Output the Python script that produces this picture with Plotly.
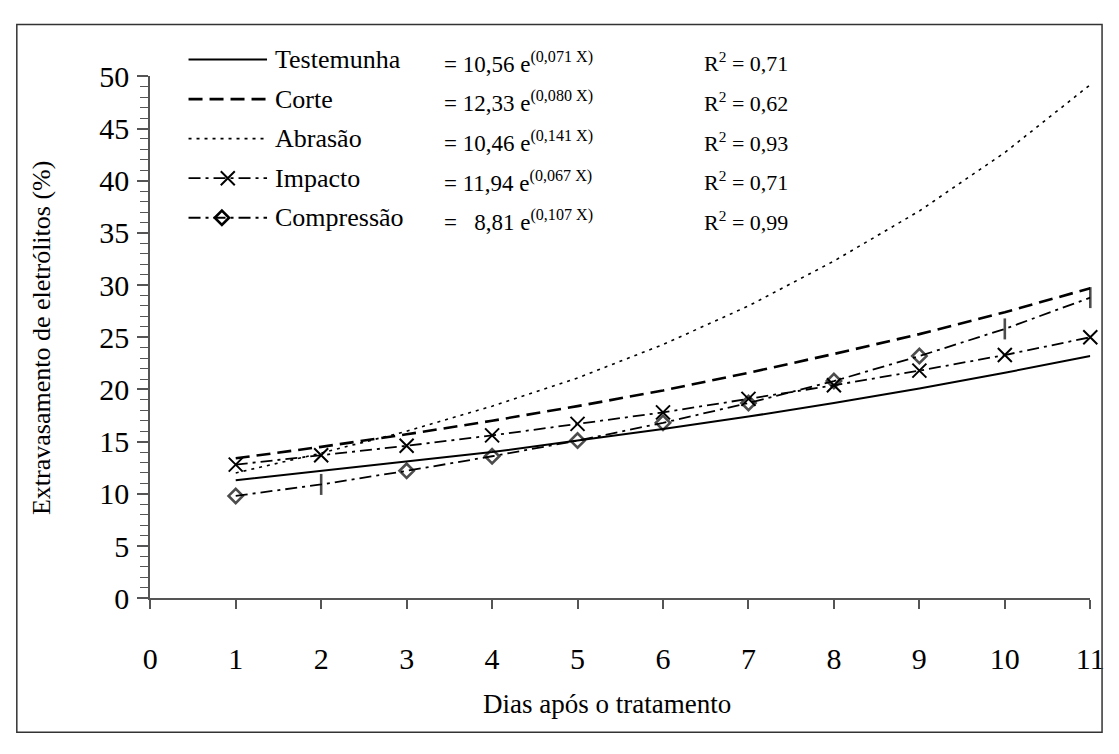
import plotly.graph_objects as go

# Days after treatment and electrolyte leakage (%) per treatment
days = [1, 2, 3, 4, 5, 6, 7, 8, 9, 10, 11]
testemunha = [11.3, 12.2, 13.1, 14.0, 15.1, 16.2, 17.4, 18.7, 20.1, 21.6, 23.2]
corte = [13.4, 14.5, 15.7, 17.0, 18.4, 19.9, 21.6, 23.4, 25.3, 27.4, 29.7]
abrasao = [12.0, 13.9, 16.0, 18.4, 21.1, 24.3, 28.0, 32.3, 37.1, 42.7, 49.2]
impacto = [12.8, 13.7, 14.6, 15.6, 16.7, 17.8, 19.1, 20.4, 21.8, 23.3, 25.0]
compressao = [9.8, 10.9, 12.2, 13.6, 15.1, 16.8, 18.7, 20.8, 23.2, 25.8, 28.8]

series_names = ["Testemunha", "Corte", "Abrasão", "Impacto", "Compressão"]
equations = [
    "= 10,56 e<sup>(0,071 X)</sup>",
    "= 12,33 e<sup>(0,080 X)</sup>",
    "= 10,46 e<sup>(0,141 X)</sup>",
    "= 11,94 e<sup>(0,067 X)</sup>",
    "=   8,81 e<sup>(0,107 X)</sup>",
]
r2_labels = ["0,71", "0,62", "0,93", "0,71", "0,99"]

x_ticks = list(range(0, 12))
y_ticks = list(range(0, 51, 5))

W, H = 1119, 754
FONT = "Liberation Serif, Times New Roman, serif"
INK = "black"

# plot area in pixels
PX_L, PX_R, PX_T, PX_B = 146, 1104, 63, 608

styles = {
    "Testemunha": dict(dash="solid", width=2.0),
    "Corte": dict(dash="14px,7px", width=2.6),
    "Abrasão": dict(dash="3px,5px", width=1.6),
    "Impacto": dict(dash="12px,5px,3px,5px", width=1.8),
    "Compressão": dict(dash="12px,5px,3px,5px", width=1.8),
}

X_MARK = dict(symbol="x-thin-open", size=14, color=INK, line=dict(color=INK, width=2))
D_MARK = dict(symbol="diamond-open", size=11, color=INK, line=dict(color=INK, width=2.6))

# Compressão markers: open diamonds, a few drawn as vertical strokes
comp_symbols = ["diamond-open"] * len(days)
for i in (1, 9, 10):
    comp_symbols[i] = "line-ns-open"
comp_sizes = [11 if s == "diamond-open" else 15 for s in comp_symbols]

fig = go.Figure()

fig.add_trace(go.Scatter(x=days, y=testemunha, mode="lines", name="Testemunha",
                         line=dict(color=INK, **styles["Testemunha"])))
fig.add_trace(go.Scatter(x=days, y=corte, mode="lines", name="Corte",
                         line=dict(color=INK, **styles["Corte"])))
fig.add_trace(go.Scatter(x=days, y=abrasao, mode="lines", name="Abrasão",
                         line=dict(color=INK, **styles["Abrasão"])))
fig.add_trace(go.Scatter(x=days, y=impacto, mode="lines+markers", name="Impacto",
                         line=dict(color=INK, **styles["Impacto"]),
                         marker=X_MARK, cliponaxis=False))
fig.add_trace(go.Scatter(x=days, y=compressao, mode="lines+markers", name="Compressão",
                         line=dict(color=INK, **styles["Compressão"]),
                         marker=dict(symbol=comp_symbols, size=comp_sizes, color=INK,
                                     line=dict(color=INK, width=2.6)),
                         cliponaxis=False))

# Key drawn on a separate pixel-space subplot spanning the whole page
ROW0, ROW_STEP = 45.5, 41.3
KEY_X0, KEY_X1 = 185, 265
for k, name in enumerate(series_names):
    ry = ROW0 + k * ROW_STEP
    fig.add_trace(go.Scatter(x=[KEY_X0, KEY_X1], y=[ry, ry], mode="lines",
                             xaxis="x2", yaxis="y2", showlegend=False, hoverinfo="skip",
                             line=dict(color=INK, **styles[name])))
    if name == "Impacto":
        fig.add_trace(go.Scatter(x=[(KEY_X0 + KEY_X1) / 2], y=[ry], mode="markers",
                                 xaxis="x2", yaxis="y2", showlegend=False, hoverinfo="skip",
                                 marker=X_MARK))
    if name == "Compressão":
        fig.add_trace(go.Scatter(x=[(KEY_X0 + KEY_X1) / 2 - 6], y=[ry], mode="markers",
                                 xaxis="x2", yaxis="y2", showlegend=False, hoverinfo="skip",
                                 marker=D_MARK))

annotations = []
for k, name in enumerate(series_names):
    ry = ROW0 + k * ROW_STEP
    annotations.append(dict(x=271 / W, y=1 - ry / H, xref="paper", yref="paper",
                            xanchor="left", yanchor="middle", showarrow=False,
                            text=name, font=dict(family=FONT, size=26, color=INK)))
    annotations.append(dict(x=443 / W, y=1 - (ry + 3) / H, xref="paper", yref="paper",
                            xanchor="left", yanchor="middle", showarrow=False,
                            text=equations[k].replace("  ", "&nbsp;&nbsp;"),
                            font=dict(family=FONT, size=23, color=INK)))
    annotations.append(dict(x=708 / W, y=1 - (ry + 3) / H, xref="paper", yref="paper",
                            xanchor="left", yanchor="middle", showarrow=False,
                            text="R<sup>2</sup> = " + r2_labels[k],
                            font=dict(family=FONT, size=22, color=INK)))

annotations.append(dict(x=611 / W, y=1 - 718 / H, xref="paper", yref="paper",
                        xanchor="center", yanchor="middle", showarrow=False,
                        text="Dias após o tratamento",
                        font=dict(family=FONT, size=27, color=INK)))
annotations.append(dict(x=35 / W, y=1 - 336 / H, xref="paper", yref="paper",
                        xanchor="center", yanchor="middle", showarrow=False, textangle=-90,
                        text="Extravasamento de eletrólitos (%)",
                        font=dict(family=FONT, size=26, color=INK)))

AX = "#555555"
fig.update_layout(
    width=W, height=H, autosize=False,
    margin=dict(l=0, r=0, t=0, b=0),
    paper_bgcolor="white", plot_bgcolor="rgba(0,0,0,0)",
    showlegend=False,
    font=dict(family=FONT, color=INK),
    xaxis=dict(domain=[PX_L / W, PX_R / W], range=[0, 11], tickvals=x_ticks,
               ticks="outside", ticklen=9, tickwidth=1.5, tickcolor=AX,
               ticklabelstandoff=24,
               showline=True, linecolor=AX, linewidth=1.8, showgrid=False,
               zeroline=False, tickfont=dict(family=FONT, size=30, color=INK)),
    yaxis=dict(domain=[1 - PX_B / H, 1 - PX_T / H], range=[0, 50], tickvals=y_ticks,
               ticks="outside", ticklen=11, tickwidth=1.8, tickcolor=AX,
               ticklabelstandoff=2,
               minor=dict(dtick=1, ticks="outside", ticklen=8, tickwidth=1, tickcolor=AX),
               showline=True, linecolor=AX, linewidth=1.8, showgrid=False,
               zeroline=False, tickfont=dict(family=FONT, size=30, color=INK)),
    xaxis2=dict(domain=[0, 1], range=[0, W], anchor="y2", visible=False, fixedrange=True),
    yaxis2=dict(domain=[0, 1], range=[H, 0], anchor="x2", visible=False, fixedrange=True),
    annotations=annotations,
    shapes=[dict(type="rect", xref="paper", yref="paper",
                 x0=10 / W, x1=1116 / W, y0=1 - 748 / H, y1=1 - 9 / H,
                 line=dict(color="#333333", width=1.5))],
)

# page without the default body margin so the figure fills the window
fig.write_html("out.html", post_script="document.body.style.margin='0px';")
